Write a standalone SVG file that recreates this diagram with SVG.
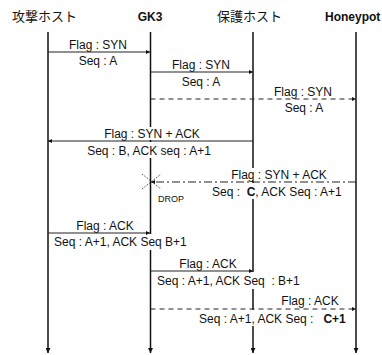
<svg xmlns="http://www.w3.org/2000/svg" width="382" height="355" viewBox="0 0 382 355">
<defs>
<style>
text{font-family:"Liberation Sans","Noto Sans CJK JP",Arial,sans-serif;font-size:12px;fill:#111;white-space:pre}
.hdr{font-size:13px}
.b{font-weight:bold}
.life{stroke:#111;stroke-width:1.5;fill:none}
.msg{stroke:#222;stroke-width:1;fill:none}
.dash{stroke-dasharray:5 4}
.dashdot{stroke-dasharray:8 3 2 3}
.bg{fill:#fff}
.x{stroke:#333;stroke-width:0.9;stroke-dasharray:1.5 1.5;fill:none}
.small{font-size:9px}
</style>
<marker id="ah" viewBox="0 0 10 10" refX="10" refY="5" markerWidth="5" markerHeight="4" markerUnits="userSpaceOnUse" orient="auto">
<path d="M0,0 L10,5 L0,10 Z" fill="#111"/>
</marker>
<marker id="lah" viewBox="0 0 10 10" refX="10" refY="5" markerWidth="8" markerHeight="5" markerUnits="userSpaceOnUse" orient="auto">
<path d="M0,0 L10,5 L0,10 Z" fill="#111"/>
</marker>
</defs>
<rect width="382" height="355" fill="#fff"/>
<g id="attacker">
<text class="hdr" x="12" y="21">攻撃ホスト</text>
<line class="life" x1="48" y1="32" x2="48" y2="353" marker-end="url(#lah)"/>
</g>
<g id="gk3">
<text class="b" x="150" y="21" text-anchor="middle">GK3</text>
<line class="life" x1="150.5" y1="32" x2="150.5" y2="353" marker-end="url(#lah)"/>
</g>
<g id="protected">
<text class="hdr" x="217" y="21">保護ホスト</text>
<line class="life" x1="253" y1="32" x2="253" y2="353" marker-end="url(#lah)"/>
</g>
<g id="honeypot">
<text class="b" x="325" y="21">Honeypot</text>
<line class="life" x1="356" y1="32" x2="356" y2="353" marker-end="url(#lah)"/>
</g>
<g id="connectors">
<!-- msg1 -->
<text x="98" y="49" text-anchor="middle">Flag : SYN</text>
<text x="98" y="65" text-anchor="middle">Seq : A</text>
<line class="msg" x1="48" y1="52" x2="150" y2="52" marker-end="url(#ah)"/>
<!-- msg2 -->
<text x="201" y="69" text-anchor="middle">Flag : SYN</text>
<text x="201" y="86" text-anchor="middle">Seq : A</text>
<line class="msg" x1="150.5" y1="72" x2="253" y2="72" marker-end="url(#ah)"/>
<!-- msg3 -->
<text x="303" y="96" text-anchor="middle">Flag : SYN</text>
<text x="304" y="112" text-anchor="middle">Seq : A</text>
<line class="msg dash" x1="150.5" y1="99" x2="356" y2="99" marker-end="url(#ah)"/>
<!-- msg4 -->
<rect class="bg" x="102" y="127" width="101" height="13"/>
<rect class="bg" x="85" y="142" width="128" height="16"/>
<text x="152" y="138" text-anchor="middle">Flag : SYN + ACK</text>
<text x="149" y="155" text-anchor="middle">Seq : B, ACK seq : A+1</text>
<line class="msg" x1="253" y1="141" x2="48" y2="141" marker-end="url(#ah)"/>
<!-- msg5 -->
<rect class="bg" x="228" y="168" width="102" height="12.5"/>
<rect class="bg" x="211" y="183" width="134" height="16"/>
<text x="279" y="179" text-anchor="middle">Flag : SYN + ACK</text>
<text x="212" y="196">Seq :  <tspan class="b">C</tspan>, ACK Seq : A+1</text>
<line class="msg dashdot" x1="356" y1="182" x2="151" y2="182" marker-end="url(#ah)"/>
<line class="x" x1="142" y1="174" x2="161" y2="189"/>
<line class="x" x1="142" y1="189" x2="161" y2="174"/>
<text class="small" x="158" y="202">DROP</text>
<!-- msg6 -->
<rect class="bg" x="53" y="234" width="139" height="16"/>
<text x="105" y="230" text-anchor="middle">Flag : ACK</text>
<text x="54" y="246">Seq : A+1, ACK Seq B+1</text>
<line class="msg" x1="48" y1="233" x2="150" y2="233" marker-end="url(#ah)"/>
<!-- msg7 -->
<rect class="bg" x="156" y="272" width="149" height="17"/>
<text x="208" y="268" text-anchor="middle">Flag : ACK</text>
<text x="157" y="285">Seq : A+1, ACK Seq  : B+1</text>
<line class="msg" x1="150.5" y1="271" x2="253" y2="271" marker-end="url(#ah)"/>
<!-- msg8 -->
<rect class="bg" x="198" y="310" width="153" height="16"/>
<text x="310" y="305" text-anchor="middle">Flag : ACK</text>
<text x="199" y="323">Seq : A+1, ACK Seq :   <tspan class="b">C+1</tspan></text>
<line class="msg dash" x1="150.5" y1="309" x2="356" y2="309" marker-end="url(#ah)"/>
</g>
</svg>
